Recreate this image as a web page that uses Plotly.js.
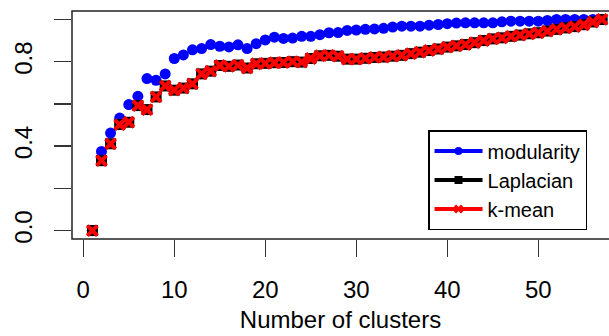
<!DOCTYPE html>
<html>
<head>
<meta charset="utf-8">
<script src="https://cdn.plot.ly/plotly-3.0.1.min.js"></script>
<style>
html,body{margin:0;padding:0;background:#fff;overflow:hidden;}
#chart{width:609px;height:336px;}
</style>
</head>
<body>
<div id="chart"></div>
<script>
// Number of clusters
const clusters = [];
for (let k = 1; k <= 57; k++) clusters.push(k);

const modularity = [
  0.0, 0.375, 0.462, 0.533, 0.597, 0.636, 0.72, 0.712, 0.742, 0.815,
  0.832, 0.856, 0.862, 0.881, 0.873, 0.87, 0.88, 0.862, 0.885, 0.903,
  0.916, 0.91, 0.912, 0.92, 0.92, 0.928, 0.937, 0.938, 0.948, 0.95,
  0.953, 0.955, 0.958, 0.964, 0.968, 0.968, 0.968, 0.973, 0.976, 0.98,
  0.983, 0.984, 0.984, 0.984, 0.984, 0.989, 0.992, 0.992, 0.992, 0.992,
  0.995, 1.0, 1.0, 1.0, 1.0, 1.0, 1.0
];

const laplacian = [
  0.0, 0.331, 0.411, 0.502, 0.513, 0.592, 0.573, 0.633, 0.685, 0.665,
  0.675, 0.695, 0.742, 0.755, 0.782, 0.778, 0.784, 0.77, 0.79, 0.792,
  0.795, 0.796, 0.8, 0.798, 0.815, 0.828, 0.83, 0.826, 0.812, 0.812,
  0.816, 0.82, 0.822, 0.826, 0.83, 0.838, 0.845, 0.853, 0.86, 0.869,
  0.875, 0.881, 0.89, 0.9, 0.908, 0.913, 0.92, 0.926, 0.932, 0.937,
  0.945, 0.953, 0.96, 0.966, 0.975, 0.988, 1.0
];

const kmean = [
  0.0, 0.331, 0.411, 0.502, 0.513, 0.592, 0.573, 0.633, 0.685, 0.665,
  0.675, 0.695, 0.742, 0.755, 0.782, 0.778, 0.784, 0.77, 0.79, 0.792,
  0.795, 0.796, 0.8, 0.798, 0.815, 0.828, 0.83, 0.826, 0.812, 0.812,
  0.816, 0.82, 0.822, 0.826, 0.83, 0.838, 0.845, 0.853, 0.86, 0.869,
  0.875, 0.881, 0.89, 0.9, 0.908, 0.913, 0.92, 0.926, 0.932, 0.937,
  0.945, 0.953, 0.96, 0.966, 0.975, 0.988, 1.0
];

const seriesNames = ["modularity", "Laplacian", "k-mean"];
const seriesColors = ["#0000ff", "#000000", "#ff0000"];

const xTickVals = [0, 10, 20, 30, 40, 50];
const yTickVals = [0, 0.2, 0.4, 0.6, 0.8, 1.0];
const yTickText = ["0.0", "", "0.4", "", "0.8", ""];

const FONT = "Liberation Sans, Arial, Helvetica, sans-serif";

const markerStyles = [
  {symbol: "circle", size: 11, color: seriesColors[0]},
  {symbol: "square", size: 11, color: seriesColors[1]},
  {symbol: "x-thin", size: 10, color: seriesColors[2], line: {color: seriesColors[2], width: 4}}
];
const legendMarkerStyles = [
  {symbol: "circle", size: 8, color: seriesColors[0]},
  {symbol: "square", size: 8, color: seriesColors[1]},
  {symbol: "x-thin", size: 7, color: seriesColors[2], line: {color: seriesColors[2], width: 3}}
];
const values = [modularity, laplacian, kmean];

const traces = [];
// points only (as in the original)
for (let i = 0; i < 3; i++) {
  traces.push({
    x: clusters, y: values[i], name: seriesNames[i], type: "scatter", mode: "markers",
    marker: markerStyles[i], showlegend: false, cliponaxis: false
  });
}
// legend entries (line + point)
for (let i = 0; i < 3; i++) {
  traces.push({
    x: [null], y: [null], name: seriesNames[i], type: "scatter", mode: "lines+markers",
    line: {color: seriesColors[i], width: 4},
    marker: legendMarkerStyles[i], showlegend: true
  });
}

const layout = {
  width: 609, height: 336,
  margin: {l: 72, r: 0, t: 11, b: 97, pad: 0},
  paper_bgcolor: "#ffffff", plot_bgcolor: "#ffffff",
  font: {family: FONT, color: "#000000", size: 24},
  showlegend: true,
  legend: {
    x: 0.663, y: 0.478, xanchor: "left", yanchor: "top",
    bordercolor: "#000000", borderwidth: 1.5, bgcolor: "#ffffff",
    font: {family: FONT, size: 20, color: "#000000"},
    itemwidth: 48, tracegroupgap: 0
  },
  xaxis: {
    range: [-1.24, 57.77], autorange: false,
    tickmode: "array", tickvals: xTickVals,
    ticks: "outside", ticklen: 17, tickwidth: 1.5, tickcolor: "#333333",
    showgrid: false, zeroline: false, showline: false,
    tickfont: {family: FONT, size: 24, color: "#000000"},
    ticklabelstandoff: 12,
    title: {text: "Number of clusters", font: {family: FONT, size: 24, color: "#000000"}, standoff: 9},
    automargin: false
  },
  yaxis: {
    range: [-0.04, 1.04], autorange: false,
    tickmode: "array", tickvals: yTickVals, ticktext: yTickText,
    ticks: "outside", ticklen: 17, tickwidth: 1.5, tickcolor: "#333333",
    tickangle: -90,
    showgrid: false, zeroline: false, showline: false,
    tickfont: {family: FONT, size: 24, color: "#000000"},
    ticklabelstandoff: 12,
    automargin: false
  },
  shapes: [
    {type: "rect", xref: "paper", yref: "paper", x0: 0, x1: 1.05, y0: 0, y1: 1,
     line: {color: "#222222", width: 1.5}, fillcolor: "rgba(0,0,0,0)", layer: "above"}
  ]
};

Plotly.newPlot("chart", traces, layout, {displayModeBar: false, staticPlot: true});
</script>
</body>
</html>
